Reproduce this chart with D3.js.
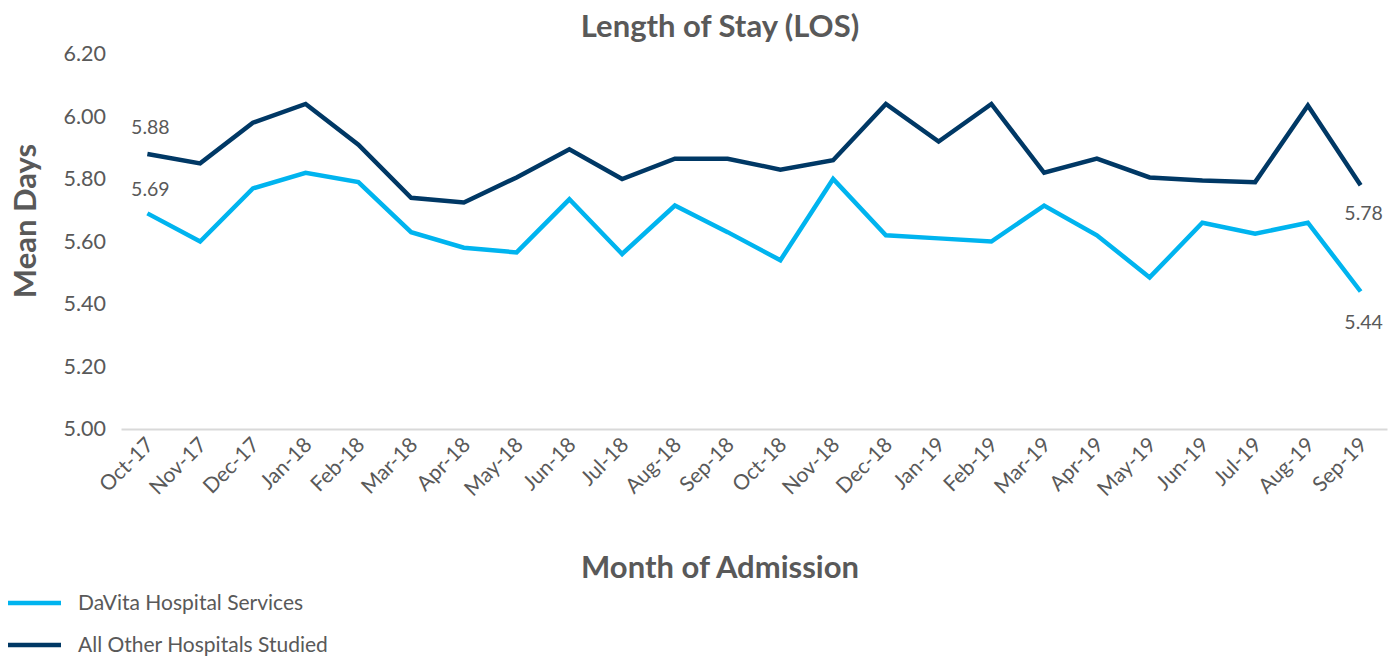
<!DOCTYPE html>
<html>
<head>
<meta charset="utf-8">
<script src="https://cdn.jsdelivr.net/npm/d3@7"></script>
<style>
  body { margin: 0; background: #fff; font-family: Lato, "Open Sans", sans-serif; }
  text { fill: #595959; }
</style>
</head>
<body>
<div id="chart"></div>
<script>
// Data
var months = ["Oct-17","Nov-17","Dec-17","Jan-18","Feb-18","Mar-18","Apr-18","May-18","Jun-18","Jul-18","Aug-18","Sep-18",
              "Oct-18","Nov-18","Dec-18","Jan-19","Feb-19","Mar-19","Apr-19","May-19","Jun-19","Jul-19","Aug-19","Sep-19"];
var davita = [5.69,5.60,5.77,5.82,5.79,5.63,5.58,5.565,5.735,5.56,5.715,5.63,
              5.54,5.80,5.62,5.61,5.60,5.715,5.62,5.485,5.66,5.625,5.66,5.44];
var others = [5.88,5.85,5.98,6.04,5.91,5.74,5.725,5.805,5.895,5.80,5.865,5.865,
              5.83,5.86,6.04,5.92,6.04,5.82,5.865,5.805,5.795,5.79,6.035,5.78];
var yTicks = [5.00,5.20,5.40,5.60,5.80,6.00,6.20];
var seriesNames = ["DaVita Hospital Services","All Other Hospitals Studied"];
var seriesColors = ["#00b4ef","#003865"];

var W = 1393, H = 656;
var margin = {top: 54, right: 6, bottom: 227, left: 121};
var width = W - margin.left - margin.right;
var height = H - margin.top - margin.bottom;

var svg = d3.select("#chart").append("svg")
  .attr("width", W)
  .attr("height", H);

var g = svg.append("g")
  .attr("transform", `translate(${margin.left},${margin.top})`);

// Scales
var x = d3.scalePoint()
  .domain(months)
  .range([0, width])
  .padding(0.5);
var y = d3.scaleLinear()
  .domain([5.0, 6.2])
  .range([height, 0]);

// Y axis (labels only)
var yAxis = g.append("g")
  .call(d3.axisLeft(y).tickValues(yTicks).tickFormat(d3.format(".2f")).tickSize(0).tickPadding(15));
yAxis.select(".domain").remove();
yAxis.selectAll("text")
  .style("font-family", "Lato, sans-serif")
  .style("font-size", "21.5px")
  .attr("fill", "#595959");

// X axis
var xAxis = g.append("g")
  .attr("transform", `translate(0,${height})`)
  .call(d3.axisBottom(x).tickSize(0));
xAxis.select(".domain")
  .attr("stroke", "#d9d9d9")
  .attr("stroke-width", 2);
xAxis.selectAll("text")
  .style("font-family", "Lato, sans-serif")
  .style("font-size", "21px")
  .attr("fill", "#595959")
  .attr("text-anchor", "end")
  .attr("dy", "0")
  .attr("transform", "translate(5,15) rotate(-45)");

// Lines
var line = d3.line()
  .x(function(d, i) { return x(months[i]); })
  .y(function(d) { return y(d); });

[davita, others].forEach(function(series, k) {
  g.append("path")
    .datum(series)
    .attr("fill", "none")
    .attr("stroke", seriesColors[k])
    .attr("stroke-width", 4.5)
    .attr("stroke-linejoin", "miter")
    .attr("d", line);
});

// End labels
var first = months[0], last = months[months.length - 1];
var labelData = [
  {m: first, v: others[0], dy: -20},
  {m: first, v: davita[0], dy: -17},
  {m: last, v: others[others.length - 1], dy: 35},
  {m: last, v: davita[davita.length - 1], dy: 37}
];
g.selectAll(".val-label")
  .data(labelData)
  .enter().append("text")
  .attr("class", "val-label")
  .attr("x", function(d) { return x(d.m) + 3; })
  .attr("y", function(d) { return y(d.v) + d.dy; })
  .attr("text-anchor", "middle")
  .style("font-size", "19.5px")
  .text(function(d) { return d.v.toFixed(2); });

// Title and axis titles
svg.append("text")
  .attr("x", 720)
  .attr("y", 37)
  .attr("text-anchor", "middle")
  .style("font-size", "31px")
  .style("font-weight", "bold")
  .attr("fill", "#404040")
  .text("Length of Stay (LOS)");

svg.append("text")
  .attr("transform", "translate(36,221) rotate(-90)")
  .attr("text-anchor", "middle")
  .style("font-size", "31px")
  .style("font-weight", "bold")
  .attr("fill", "#404040")
  .text("Mean Days");

svg.append("text")
  .attr("x", 720)
  .attr("y", 578)
  .attr("text-anchor", "middle")
  .style("font-size", "31px")
  .style("font-weight", "bold")
  .attr("fill", "#404040")
  .text("Month of Admission");

// Legend
var legend = svg.selectAll(".legend")
  .data(seriesNames)
  .enter().append("g")
  .attr("class", "legend")
  .attr("transform", function(d, i) { return `translate(8,${603 + i * 42})`; });
legend.append("line")
  .attr("x1", 0).attr("x2", 53)
  .attr("stroke", function(d, i) { return seriesColors[i]; })
  .attr("stroke-width", 4.5);
legend.append("text")
  .attr("x", 70)
  .attr("dy", "0.35em")
  .style("font-size", "21px")
  .text(function(d) { return d; });
</script>
</body>
</html>
